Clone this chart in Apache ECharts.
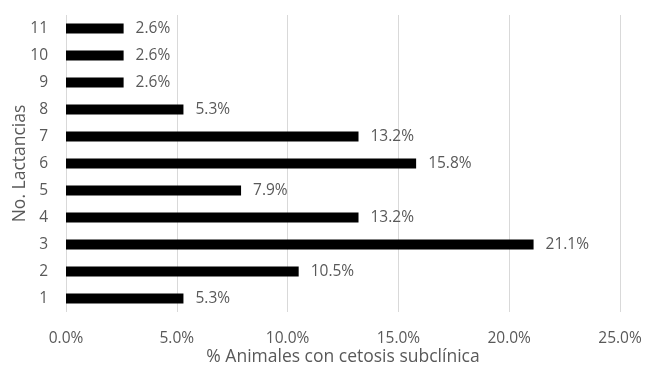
<!DOCTYPE html>
<html>
<head>
<meta charset="utf-8">
<script src="https://cdn.jsdelivr.net/npm/echarts@6/dist/echarts.min.js"></script>
<style>
  html, body { margin: 0; padding: 0; background: #fff; }
  #chart { width: 648px; height: 387px; }
</style>
</head>
<body>
<div id="chart"></div>
<script>
// No. de lactancias (de abajo hacia arriba)
var lactancias = ['1', '2', '3', '4', '5', '6', '7', '8', '9', '10', '11'];
// % animales con cetosis subclinica
var porcentajes = [5.3, 10.5, 21.1, 13.2, 7.9, 15.8, 13.2, 5.3, 2.6, 2.6, 2.6];

var fuente = '"Open Sans", "Liberation Sans", sans-serif';
var gris = '#595959';

var option = {
  animation: false,
  backgroundColor: '#fff',
  grid: { left: 66, right: 28, top: 15, bottom: 75, containLabel: false, outerBoundsMode: 'none' },
  xAxis: {
    type: 'value',
    min: 0,
    max: 25,
    interval: 5,
    name: '% Animales con cetosis subclínica',
    nameLocation: 'middle',
    nameGap: 36,
    nameMoveOverlap: false,
    nameTextStyle: { color: gris, fontSize: 17.5, fontFamily: fuente },
    axisLine: { show: false },
    axisTick: { show: false },
    axisLabel: {
      color: gris, fontSize: 15.5, fontFamily: fuente, margin: 19,
      formatter: function (v) { return v.toFixed(1) + '%'; }
    },
    splitLine: { lineStyle: { color: '#d9d9d9', width: 1 } }
  },
  yAxis: {
    type: 'category',
    data: lactancias,
    name: 'No. Lactancias',
    nameLocation: 'middle',
    nameGap: 37,
    nameRotate: 90,
    nameMoveOverlap: false,
    nameTextStyle: { color: gris, fontSize: 17.5, fontFamily: fuente },
    axisLine: { show: false },
    axisTick: { show: false },
    axisLabel: { color: gris, fontSize: 15.5, fontFamily: fuente, margin: 18 }
  },
  series: [{
    type: 'bar',
    data: porcentajes,
    barWidth: 10,
    itemStyle: { color: '#000' },
    label: {
      show: true,
      position: 'right',
      distance: 12,
      color: gris,
      fontSize: 15.5,
      fontFamily: fuente,
      formatter: function (p) { return p.value.toFixed(1) + '%'; }
    }
  }]
};

echarts.init(document.getElementById('chart')).setOption(option);
</script>
</body>
</html>
